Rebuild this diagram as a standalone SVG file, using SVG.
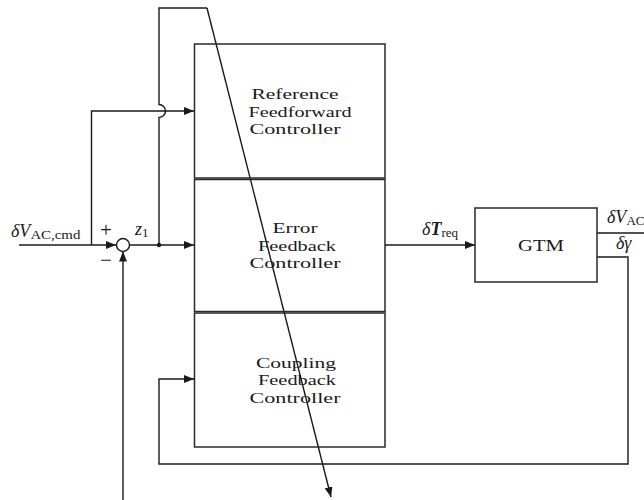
<svg xmlns="http://www.w3.org/2000/svg" width="644" height="500" viewBox="0 0 644 500">
<defs>
<marker id="ah" viewBox="0 0 10 8" refX="10" refY="4" markerWidth="10" markerHeight="8" markerUnits="userSpaceOnUse" orient="auto">
<path d="M0,0 L10,4 L0,8 Z" fill="#1a1a1a"/>
</marker>
</defs>
<style>
.box{fill:none;stroke:#2a2a2a;stroke-width:1.5}
.ln{fill:none;stroke:#1a1a1a;stroke-width:1.4}
.arr{fill:none;stroke:#1a1a1a;stroke-width:1.4;marker-end:url(#ah)}
.t{font-family:"Liberation Serif","DejaVu Serif",serif;font-size:15px;fill:#1a1a1a;text-anchor:middle}
.m{font-family:"Liberation Serif","DejaVu Serif",serif;font-size:18px;fill:#1a1a1a}
.s{font-size:13px}
.big{font-size:21px}
.g{font-size:17px}
</style>
<rect width="644" height="500" fill="#fff"/>

<g id="connectors">
<path class="arr" d="M19,245 H116"/>
<path class="arr" d="M91.5,245 V111 H194"/>
<path class="arr" d="M129.5,245 H194"/>
<path class="ln" d="M159,245 V117.5 A6.5,6.5 0 0 0 159,104.5 V8 H207"/>
<path class="arr" d="M207,8 L331,497"/>
<path class="arr" d="M123,500 V251.5"/>
<path class="arr" d="M385,245 H475"/>
<path class="ln" d="M597,233 H644"/>
<path class="arr" d="M597,257 H628 V464 H159 V379 H194"/>
<circle cx="159" cy="245" r="2.2" fill="#1a1a1a"/>
</g>

<g id="sum">
<circle cx="123" cy="245" r="6.5" fill="#fff" stroke="#1a1a1a" stroke-width="1.4"/>
<text class="m big" x="100" y="237">+</text>
<text class="m big" x="100" y="267">−</text>
</g>

<g id="ref-ff">
<rect class="box" x="194.5" y="44" width="190.5" height="134"/>
<text class="t" x="295" y="99" textLength="87" lengthAdjust="spacingAndGlyphs">Reference</text>
<text class="t" x="300" y="116.5" textLength="103" lengthAdjust="spacingAndGlyphs">Feedforward</text>
<text class="t" x="295" y="134" textLength="91" lengthAdjust="spacingAndGlyphs">Controller</text>
</g>

<g id="error-fb">
<rect class="box" x="194.5" y="179.5" width="190.5" height="132"/>
<text class="t" x="295" y="233" textLength="45" lengthAdjust="spacingAndGlyphs">Error</text>
<text class="t" x="297" y="250.5" textLength="78" lengthAdjust="spacingAndGlyphs">Feedback</text>
<text class="t" x="295" y="268" textLength="91" lengthAdjust="spacingAndGlyphs">Controller</text>
</g>

<g id="coupling-fb">
<rect class="box" x="194.5" y="313" width="190.5" height="134"/>
<text class="t" x="296" y="367.5" textLength="80" lengthAdjust="spacingAndGlyphs">Coupling</text>
<text class="t" x="297" y="385" textLength="78" lengthAdjust="spacingAndGlyphs">Feedback</text>
<text class="t" x="295" y="402.5" textLength="91" lengthAdjust="spacingAndGlyphs">Controller</text>
</g>

<g id="gtm">
<rect class="box" x="475" y="208" width="122" height="74"/>
<text class="t g" x="541" y="251" textLength="46" lengthAdjust="spacingAndGlyphs">GTM</text>
</g>

<g id="labels">
<text class="m" x="11" y="237"><tspan font-style="italic">δV</tspan><tspan class="s" dy="2" textLength="50" lengthAdjust="spacingAndGlyphs">AC,cmd</tspan></text>
<text class="m" x="135" y="235"><tspan font-style="italic">z</tspan><tspan class="s" dy="2">1</tspan></text>
<text class="m" x="422" y="235"><tspan font-style="italic">δ</tspan><tspan font-style="italic" font-weight="bold">T</tspan><tspan class="s" dy="2">req</tspan></text>
<text class="m" x="607" y="223"><tspan font-style="italic">δV</tspan><tspan class="s" dy="2">AC</tspan></text>
<text class="m" x="616" y="249" font-style="italic">δγ</text>
</g>
</svg>
